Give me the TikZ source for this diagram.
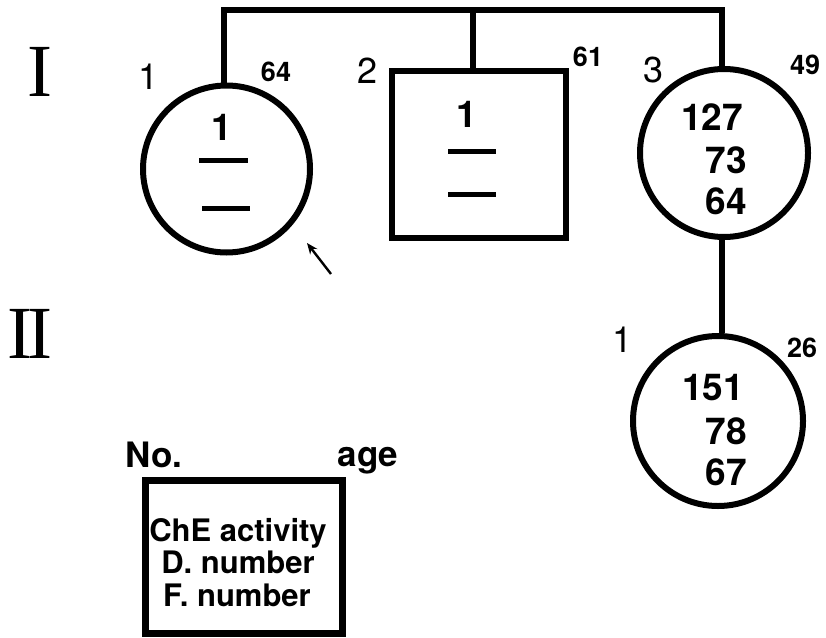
\documentclass[tikz,border=0pt]{standalone}
\usepackage{fontspec}
\setmainfont{TeX Gyre Heros}
\newfontfamily\romfont{Liberation Serif}
\usetikzlibrary{arrows.meta}
\begin{document}
\begin{tikzpicture}[x=1pt,y=-1pt,
  person/.style={draw,line width=6pt,inner sep=0pt},
  conn/.style={line width=6pt},
  dashmark/.style={line width=5pt},
  inner/.style={inner sep=0pt,font=\fontsize{37}{37}\selectfont\bfseries},
  agelab/.style={inner sep=0pt,font=\fontsize{27}{27}\selectfont\bfseries},
  numlab/.style={inner sep=0pt,font=\fontsize{36}{36}\selectfont},
  gen/.style={inner sep=0pt,font=\fontsize{75}{75}\romfont},
  legtext/.style={inner sep=0pt,anchor=base,font=\fontsize{31}{31}\selectfont\bfseries}]
\useasboundingbox (0,0) rectangle (826,637);
% generation numerals
\node[gen] (g1) at (40,72) {I};
\node[gen] (g2) at (30,334) {I\kern-5pt I};
% persons
\node[person,circle,minimum size=167pt] (c1) at (226.5,169) {};
\node[person,rectangle,minimum width=174pt,minimum height=167pt] (sq) at (479,154.5) {};
\node[person,circle,minimum size=168pt] (c3) at (724,153) {};
\node[person,circle,minimum size=170pt] (c4) at (718,421) {};
% connectors
\coordinate (tl) at (224,10);
\coordinate (tm) at (473,10);
\coordinate (tr) at (722,10);
\draw[conn] (tl |- c1.north) -- (tl) -- (tr) -- (tr |- c3.north);
\draw[conn] (tm) -- (tm |- sq.north);
\draw[conn] (tr |- c3.south) -- (tr |- c4.north);
% labels
\node[numlab] (n11) at (149,77) {1};
\node[agelab] (a11) at (276,72) {64};
\node[numlab] (n12) at (368,71) {2};
\node[agelab] (a12) at (588,57) {61};
\node[numlab] (n13) at (653,70) {3};
\node[agelab] (a13) at (805,65) {49};
\node[numlab] (n21) at (622,340) {1};
\node[agelab] (a21) at (802,348) {26};
% circle 1 contents
\node[inner] (t11) at (222,127) {1};
\coordinate (d1a) at (199,160); \coordinate (d1b) at (248,160);
\coordinate (d2a) at (202,208); \coordinate (d2b) at (250,208);
\draw[dashmark] (d1a) -- (d1b);
\draw[dashmark] (d2a) -- (d2b);
% square contents
\node[inner] (t12) at (467,114) {1};
\coordinate (d3a) at (448,151); \coordinate (d3b) at (496,151);
\coordinate (d4a) at (448,194); \coordinate (d4b) at (496,194);
\draw[dashmark] (d3a) -- (d3b);
\draw[dashmark] (d4a) -- (d4b);
% circle 3 contents
\node[inner] (t13a) at (712,117) {127};
\node[inner] (t13b) at (726,160) {73};
\node[inner] (t13c) at (726,201) {64};
% circle II-1 contents
\node[inner] (t21a) at (713,388) {151};
\node[inner] (t21b) at (726,431) {78};
\node[inner] (t21c) at (726,472) {67};
% proband arrow
\coordinate (ar1) at (331,274);
\coordinate (ar2) at (307,243);
\draw[line width=2.4pt,-{Stealth[length=11pt,width=9pt]}] (ar1) -- (ar2);
% legend
\node[inner sep=0pt,anchor=base,font=\fontsize{35}{35}\selectfont\bfseries] (lno) at (154,467) {No.};
\node[inner sep=0pt,anchor=base,font=\fontsize{35}{35}\selectfont\bfseries] (lage) at (368,466) {age};
\coordinate (lb1) at (145,480);
\coordinate (lb2) at (342,633);
\draw[line width=7pt] (lb1) rectangle (lb2);
\node[legtext] (lt1) at (238,541) {ChE activity};
\node[legtext] (lt2) at (238,573) {D. number};
\node[legtext] (lt3) at (237,606) {F. number};
\end{tikzpicture}
\end{document}
